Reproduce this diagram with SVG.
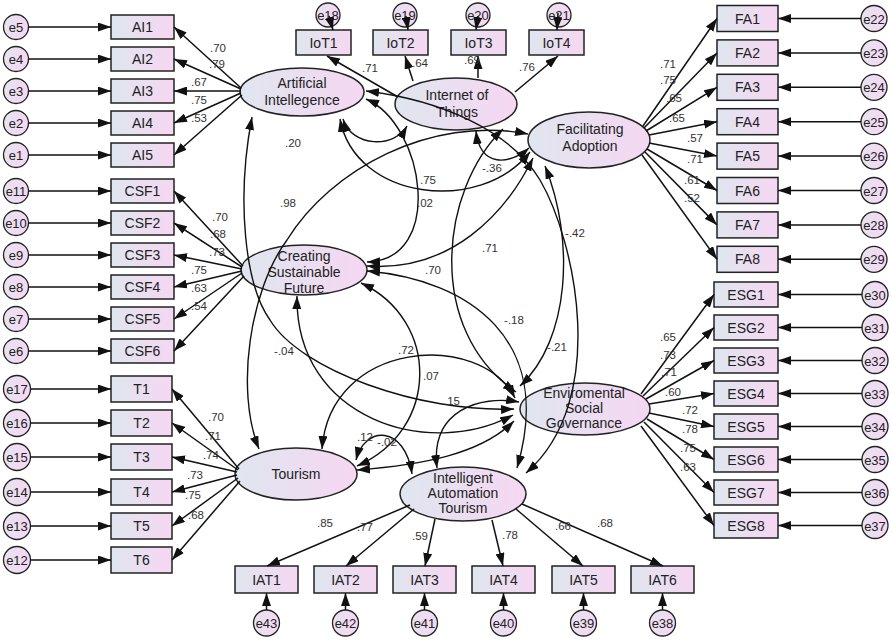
<svg xmlns="http://www.w3.org/2000/svg" width="892" height="640" viewBox="0 0 892 640">
<defs>
<linearGradient id="g" x1="0" x2="1" y1="0" y2="0"><stop offset="0" stop-color="#dfe6ef"/><stop offset="1" stop-color="#f6d7f2"/></linearGradient>
<linearGradient id="ge" x1="0" x2="1" y1="0" y2="0"><stop offset="0" stop-color="#e6e3f1"/><stop offset="1" stop-color="#f6d7f2"/></linearGradient>
<marker id="ah" viewBox="0 0 13 9" refX="13" refY="4.5" markerWidth="13" markerHeight="9" markerUnits="userSpaceOnUse" orient="auto-start-reverse"><path d="M0,0 L13,4.5 L0,9 z" fill="#111"/></marker>
</defs>
<style>
.box{fill:url(#g);stroke:#222;stroke-width:1.5}
.lat{fill:url(#g);stroke:#222;stroke-width:1.5}
.err{fill:url(#ge);stroke:#222;stroke-width:1.3}
text{font-family:"Liberation Sans",Arial,sans-serif;text-anchor:middle;fill:#222}
.bt{font-size:14px}
.et{font-size:13px}
.lt{font-size:14px}
.v{font-size:11.5px;fill:#333}
.a{fill:none;stroke:#111;stroke-width:1.5;marker-end:url(#ah)}
.cv{fill:none;stroke:#111;stroke-width:1.4;marker-start:url(#ah);marker-end:url(#ah)}
</style>
<rect width="892" height="640" fill="#fff"/>

<!-- AI indicators -->
<g id="AI1"><circle class="err" cx="16" cy="27" r="12.5"/><text class="et" x="16" y="32">e5</text><rect class="box" x="111" y="15" width="63" height="24"/><text class="bt" x="142.5" y="32">AI1</text></g>
<g id="AI2"><circle class="err" cx="16" cy="59" r="12.5"/><text class="et" x="16" y="64">e4</text><rect class="box" x="111" y="47" width="63" height="24"/><text class="bt" x="142.5" y="64">AI2</text></g>
<g id="AI3"><circle class="err" cx="16" cy="91" r="12.5"/><text class="et" x="16" y="96">e3</text><rect class="box" x="111" y="79" width="63" height="24"/><text class="bt" x="142.5" y="96">AI3</text></g>
<g id="AI4"><circle class="err" cx="16" cy="123" r="12.5"/><text class="et" x="16" y="128">e2</text><rect class="box" x="111" y="111" width="63" height="24"/><text class="bt" x="142.5" y="128">AI4</text></g>
<g id="AI5"><circle class="err" cx="16" cy="155" r="12.5"/><text class="et" x="16" y="160">e1</text><rect class="box" x="111" y="143" width="63" height="24"/><text class="bt" x="142.5" y="160">AI5</text></g>

<!-- CSF indicators -->
<g id="CSF1"><circle class="err" cx="16" cy="191" r="12.5"/><text class="et" x="16" y="196">e11</text><rect class="box" x="111" y="179" width="63" height="24"/><text class="bt" x="142.5" y="196">CSF1</text></g>
<g id="CSF2"><circle class="err" cx="16" cy="223" r="12.5"/><text class="et" x="16" y="228">e10</text><rect class="box" x="111" y="211" width="63" height="24"/><text class="bt" x="142.5" y="228">CSF2</text></g>
<g id="CSF3"><circle class="err" cx="16" cy="255" r="12.5"/><text class="et" x="16" y="260">e9</text><rect class="box" x="111" y="243" width="63" height="24"/><text class="bt" x="142.5" y="260">CSF3</text></g>
<g id="CSF4"><circle class="err" cx="16" cy="287" r="12.5"/><text class="et" x="16" y="292">e8</text><rect class="box" x="111" y="275" width="63" height="24"/><text class="bt" x="142.5" y="292">CSF4</text></g>
<g id="CSF5"><circle class="err" cx="16" cy="319" r="12.5"/><text class="et" x="16" y="324">e7</text><rect class="box" x="111" y="307" width="63" height="24"/><text class="bt" x="142.5" y="324">CSF5</text></g>
<g id="CSF6"><circle class="err" cx="16" cy="351" r="12.5"/><text class="et" x="16" y="356">e6</text><rect class="box" x="111" y="339" width="63" height="24"/><text class="bt" x="142.5" y="356">CSF6</text></g>

<!-- Tourism indicators -->
<g id="T1"><circle class="err" cx="17" cy="389" r="13.5"/><text class="et" x="17" y="394">e17</text><rect class="box" x="111" y="376" width="61" height="26"/><text class="bt" x="141.5" y="394">T1</text></g>
<g id="T2"><circle class="err" cx="17" cy="423" r="13.5"/><text class="et" x="17" y="428">e16</text><rect class="box" x="111" y="410" width="61" height="26"/><text class="bt" x="141.5" y="428">T2</text></g>
<g id="T3"><circle class="err" cx="17" cy="457" r="13.5"/><text class="et" x="17" y="462">e15</text><rect class="box" x="111" y="444" width="61" height="26"/><text class="bt" x="141.5" y="462">T3</text></g>
<g id="T4"><circle class="err" cx="17" cy="492" r="13.5"/><text class="et" x="17" y="497">e14</text><rect class="box" x="111" y="479" width="61" height="26"/><text class="bt" x="141.5" y="497">T4</text></g>
<g id="T5"><circle class="err" cx="17" cy="526" r="13.5"/><text class="et" x="17" y="531">e13</text><rect class="box" x="111" y="513" width="61" height="26"/><text class="bt" x="141.5" y="531">T5</text></g>
<g id="T6"><circle class="err" cx="17" cy="560" r="13.5"/><text class="et" x="17" y="565">e12</text><rect class="box" x="111" y="547" width="61" height="26"/><text class="bt" x="141.5" y="565">T6</text></g>

<!-- IoT indicators -->
<g id="IoT1"><circle class="err" cx="328" cy="15" r="12"/><text class="et" x="328" y="20">e18</text><rect class="box" x="296" y="30" width="55" height="25"/><text class="bt" x="323.5" y="48">IoT1</text></g>
<g id="IoT2"><circle class="err" cx="405" cy="15" r="12"/><text class="et" x="405" y="20">e19</text><rect class="box" x="373" y="30" width="55" height="25"/><text class="bt" x="400.5" y="48">IoT2</text></g>
<g id="IoT3"><circle class="err" cx="478" cy="15" r="12"/><text class="et" x="478" y="20">e20</text><rect class="box" x="451" y="30" width="55" height="25"/><text class="bt" x="478.5" y="48">IoT3</text></g>
<g id="IoT4"><circle class="err" cx="559" cy="15" r="12"/><text class="et" x="559" y="20">e21</text><rect class="box" x="529" y="30" width="55" height="25"/><text class="bt" x="556.5" y="48">IoT4</text></g>

<!-- FA indicators -->
<g id="FA1"><rect class="box" x="717" y="5.5" width="61" height="26"/><text class="bt" x="747.5" y="23.5">FA1</text><circle class="err" cx="874" cy="18.5" r="13"/><text class="et" x="874" y="23.5">e22</text></g>
<g id="FA2"><rect class="box" x="717" y="39.9" width="61" height="26"/><text class="bt" x="747.5" y="57.9">FA2</text><circle class="err" cx="874" cy="52.9" r="13"/><text class="et" x="874" y="57.9">e23</text></g>
<g id="FA3"><rect class="box" x="717" y="74.3" width="61" height="26"/><text class="bt" x="747.5" y="92.3">FA3</text><circle class="err" cx="874" cy="87.3" r="13"/><text class="et" x="874" y="92.3">e24</text></g>
<g id="FA4"><rect class="box" x="717" y="108.7" width="61" height="26"/><text class="bt" x="747.5" y="126.7">FA4</text><circle class="err" cx="874" cy="121.7" r="13"/><text class="et" x="874" y="126.7">e25</text></g>
<g id="FA5"><rect class="box" x="717" y="143.1" width="61" height="26"/><text class="bt" x="747.5" y="161.1">FA5</text><circle class="err" cx="874" cy="156.1" r="13"/><text class="et" x="874" y="161.1">e26</text></g>
<g id="FA6"><rect class="box" x="717" y="177.5" width="61" height="26"/><text class="bt" x="747.5" y="195.5">FA6</text><circle class="err" cx="874" cy="190.5" r="13"/><text class="et" x="874" y="195.5">e27</text></g>
<g id="FA7"><rect class="box" x="717" y="211.9" width="61" height="26"/><text class="bt" x="747.5" y="229.9">FA7</text><circle class="err" cx="874" cy="224.9" r="13"/><text class="et" x="874" y="229.9">e28</text></g>
<g id="FA8"><rect class="box" x="717" y="246.3" width="61" height="26"/><text class="bt" x="747.5" y="264.3">FA8</text><circle class="err" cx="874" cy="259.3" r="13"/><text class="et" x="874" y="264.3">e29</text></g>

<!-- ESG indicators -->
<g id="ESG1"><rect class="box" x="714" y="282" width="64" height="25"/><text class="bt" x="746" y="299.5">ESG1</text><circle class="err" cx="875" cy="294.5" r="13"/><text class="et" x="875" y="299.5">e30</text></g>
<g id="ESG2"><rect class="box" x="714" y="315" width="64" height="25"/><text class="bt" x="746" y="332.5">ESG2</text><circle class="err" cx="875" cy="327.5" r="13"/><text class="et" x="875" y="332.5">e31</text></g>
<g id="ESG3"><rect class="box" x="714" y="348" width="64" height="25"/><text class="bt" x="746" y="365.5">ESG3</text><circle class="err" cx="875" cy="360.5" r="13"/><text class="et" x="875" y="365.5">e32</text></g>
<g id="ESG4"><rect class="box" x="714" y="381" width="64" height="25"/><text class="bt" x="746" y="398.5">ESG4</text><circle class="err" cx="875" cy="393.5" r="13"/><text class="et" x="875" y="398.5">e33</text></g>
<g id="ESG5"><rect class="box" x="714" y="414" width="64" height="25"/><text class="bt" x="746" y="431.5">ESG5</text><circle class="err" cx="875" cy="426.5" r="13"/><text class="et" x="875" y="431.5">e34</text></g>
<g id="ESG6"><rect class="box" x="714" y="447" width="64" height="25"/><text class="bt" x="746" y="464.5">ESG6</text><circle class="err" cx="875" cy="459.5" r="13"/><text class="et" x="875" y="464.5">e35</text></g>
<g id="ESG7"><rect class="box" x="714" y="480" width="64" height="25"/><text class="bt" x="746" y="497.5">ESG7</text><circle class="err" cx="875" cy="492.5" r="13"/><text class="et" x="875" y="497.5">e36</text></g>
<g id="ESG8"><rect class="box" x="714" y="513" width="64" height="25"/><text class="bt" x="746" y="530.5">ESG8</text><circle class="err" cx="875" cy="525.5" r="13"/><text class="et" x="875" y="530.5">e37</text></g>

<!-- IAT indicators -->
<g id="IAT1"><rect class="box" x="235" y="566" width="63" height="27"/><text class="bt" x="266.5" y="584.5">IAT1</text><circle class="err" cx="266.5" cy="623" r="13"/><text class="et" x="266.5" y="628">e43</text></g>
<g id="IAT2"><rect class="box" x="314" y="566" width="63" height="27"/><text class="bt" x="345.5" y="584.5">IAT2</text><circle class="err" cx="345.5" cy="623" r="13"/><text class="et" x="345.5" y="628">e42</text></g>
<g id="IAT3"><rect class="box" x="393" y="566" width="63" height="27"/><text class="bt" x="424.5" y="584.5">IAT3</text><circle class="err" cx="424.5" cy="623" r="13"/><text class="et" x="424.5" y="628">e41</text></g>
<g id="IAT4"><rect class="box" x="472" y="566" width="63" height="27"/><text class="bt" x="503.5" y="584.5">IAT4</text><circle class="err" cx="503.5" cy="623" r="13"/><text class="et" x="503.5" y="628">e40</text></g>
<g id="IAT5"><rect class="box" x="552" y="566" width="63" height="27"/><text class="bt" x="583.5" y="584.5">IAT5</text><circle class="err" cx="583.5" cy="623" r="13"/><text class="et" x="583.5" y="628">e39</text></g>
<g id="IAT6"><rect class="box" x="631" y="566" width="63" height="27"/><text class="bt" x="662.5" y="584.5">IAT6</text><circle class="err" cx="662.5" cy="623" r="13"/><text class="et" x="662.5" y="628">e38</text></g>

<!-- Latent variables -->
<g id="AI"><ellipse class="lat" cx="302" cy="92" rx="62" ry="24"/><text class="lt" x="302" y="88">Artificial</text><text class="lt" x="302" y="105">Intellegence</text></g>
<g id="IoT"><ellipse class="lat" cx="456" cy="104" rx="61" ry="26"/><text class="lt" x="457" y="100">Internet of</text><text class="lt" x="457" y="117">Things</text></g>
<g id="FA"><ellipse class="lat" cx="589" cy="140" rx="61" ry="28"/><text class="lt" x="590" y="134">Facilitating</text><text class="lt" x="590" y="151">Adoption</text></g>
<g id="CSF"><ellipse class="lat" cx="304" cy="270" rx="63" ry="25"/><text class="lt" x="304" y="261">Creating</text><text class="lt" x="304" y="277">Sustainable</text><text class="lt" x="304" y="293">Future</text></g>
<g id="ESG"><ellipse class="lat" cx="585" cy="409" rx="65" ry="26"/><text class="lt" x="584" y="398">Enviromental</text><text class="lt" x="584" y="413">Social</text><text class="lt" x="584" y="428">Governance</text></g>
<g id="Tourism"><ellipse class="lat" cx="296" cy="474" rx="61" ry="26"/><text class="lt" x="296" y="479">Tourism</text></g>
<g id="IAT"><ellipse class="lat" cx="463" cy="494" rx="63" ry="27"/><text class="lt" x="463" y="483">Intelligent</text><text class="lt" x="463" y="498">Automation</text><text class="lt" x="463" y="513">Tourism</text></g>

<g id="connectors">
<!-- error arrows left -->
<path class="a" d="M28.5,27H111"/><path class="a" d="M28.5,59H111"/><path class="a" d="M28.5,91H111"/><path class="a" d="M28.5,123H111"/><path class="a" d="M28.5,155H111"/>
<path class="a" d="M28.5,191H111"/><path class="a" d="M28.5,223H111"/><path class="a" d="M28.5,255H111"/><path class="a" d="M28.5,287H111"/><path class="a" d="M28.5,319H111"/><path class="a" d="M28.5,351H111"/>
<path class="a" d="M30.5,389H111"/><path class="a" d="M30.5,423H111"/><path class="a" d="M30.5,457H111"/><path class="a" d="M30.5,492H111"/><path class="a" d="M30.5,526H111"/><path class="a" d="M30.5,560H111"/>
<!-- AI loadings -->
<path class="a" d="M241,88L174,27"/><path class="a" d="M241,89L174,59"/><path class="a" d="M241,91L174,91"/><path class="a" d="M241,93L174,123"/><path class="a" d="M242,95L174,155"/>
<!-- CSF loadings -->
<path class="a" d="M243,266L174,191"/><path class="a" d="M242,267L174,223"/><path class="a" d="M242,269L174,255"/><path class="a" d="M242,271L174,287"/><path class="a" d="M242,273L174,319"/><path class="a" d="M244,276L174,351"/>
<!-- T loadings -->
<path class="a" d="M239,469L172,389"/><path class="a" d="M238,470L172,423"/><path class="a" d="M237,472L172,457"/><path class="a" d="M237,475L172,492"/><path class="a" d="M238,478L172,526"/><path class="a" d="M240,481L172,560"/>
<!-- IoT loadings & errors -->
<path class="a" d="M398,97L327,56"/><path class="a" d="M413,81L405,56"/><path class="a" d="M478,78L478,56"/><path class="a" d="M515,92L558,56"/>
<path class="a" d="M329,16L333,30"/><path class="a" d="M406,16L408,30"/><path class="a" d="M478,16L476,30"/><path class="a" d="M558,13L557,30"/>
<!-- FA loadings & errors -->
<path class="a" d="M643,126L717,18.5"/><path class="a" d="M644,128L717,52.9"/><path class="a" d="M646,131L717,87.3"/><path class="a" d="M649,135L717,121.7"/><path class="a" d="M649,143L717,156.1"/><path class="a" d="M647,149L717,190.5"/><path class="a" d="M645,152L717,224.9"/><path class="a" d="M642,155L717,259.3"/>
<path class="a" d="M861,18.5H778"/><path class="a" d="M861,52.9H778"/><path class="a" d="M861,87.3H778"/><path class="a" d="M861,121.7H778"/><path class="a" d="M861,156.1H778"/><path class="a" d="M861,190.5H778"/><path class="a" d="M861,224.9H778"/><path class="a" d="M861,259.3H778"/>
<!-- ESG loadings & errors -->
<path class="a" d="M641,394L714,294.5"/><path class="a" d="M643,396L714,327.5"/><path class="a" d="M646,399L714,360.5"/><path class="a" d="M649,404L714,393.5"/><path class="a" d="M649,413L714,426.5"/><path class="a" d="M647,419L714,459.5"/><path class="a" d="M644,422L714,492.5"/><path class="a" d="M641,426L714,525.5"/>
<path class="a" d="M862,294.5H778"/><path class="a" d="M862,327.5H778"/><path class="a" d="M862,360.5H778"/><path class="a" d="M862,393.5H778"/><path class="a" d="M862,426.5H778"/><path class="a" d="M862,459.5H778"/><path class="a" d="M862,492.5H778"/><path class="a" d="M862,525.5H778"/>
<!-- IAT loadings & errors -->
<path class="a" d="M410,505L267,566"/><path class="a" d="M414,509L346,566"/><path class="a" d="M435,519L425,566"/><path class="a" d="M492,520L503,566"/><path class="a" d="M516,509L583,566"/><path class="a" d="M522,504L663,566"/>
<path class="a" d="M266.5,610V593"/><path class="a" d="M345.5,610V593"/><path class="a" d="M424.5,610V593"/><path class="a" d="M503.5,610V593"/><path class="a" d="M583.5,610V593"/><path class="a" d="M662.5,610V593"/>

<!-- covariances -->
<path class="cv" d="M343,119C352,148 395,148 407,126"/>
<path class="cv" d="M340,119C355,200 480,215 530,152"/>
<path class="cv" d="M366,99C425,125 445,260 367,262"/>
<path class="cv" d="M252,117C236,200 245,285 270,320C300,370 420,413 514,409"/>
<path class="cv" d="M528,134C430,115 330,170 287,240C250,290 235,390 259,449"/>
<path class="cv" d="M366,91C440,100 510,130 540,180C575,240 610,400 526,473"/>
<path class="cv" d="M476,131C480,168 510,165 529,148"/>
<path class="cv" d="M367,266C450,272 505,215 533,158"/>
<path class="cv" d="M503,129C440,190 425,330 516,392"/>
<path class="cv" d="M367,271C470,280 555,340 517,468"/>
<path class="cv" d="M545,166C575,240 570,340 520,386"/>
<path class="cv" d="M322,449C330,340 480,330 515,398"/>
<path class="cv" d="M357,470C420,465 480,455 514,421"/>
<path class="cv" d="M297,296C295,420 430,460 513,415"/>
<path class="cv" d="M437,468C430,410 480,395 519,402"/>
<path class="cv" d="M356,460C365,425 405,425 412,474"/>
<path class="cv" d="M361,283C440,320 440,430 357,466"/>
</g>

<g id="values">
<text class="v" x="218" y="52">.70</text><text class="v" x="217" y="68">.79</text><text class="v" x="199" y="86">.67</text><text class="v" x="199" y="104">.75</text><text class="v" x="199" y="122">.53</text>
<text class="v" x="220" y="221">.70</text><text class="v" x="218" y="238">.68</text><text class="v" x="217" y="256">.73</text><text class="v" x="199" y="274">.75</text><text class="v" x="199" y="292">.63</text><text class="v" x="199" y="310">.54</text>
<text class="v" x="216" y="421">.70</text><text class="v" x="213" y="440">.71</text><text class="v" x="211" y="459">.74</text><text class="v" x="195" y="479">.73</text><text class="v" x="193" y="499">.75</text><text class="v" x="196" y="519">.68</text>
<text class="v" x="370" y="72">.71</text><text class="v" x="420" y="67">.64</text><text class="v" x="472" y="64">.69</text><text class="v" x="527" y="71">.76</text>
<text class="v" x="668" y="68">.71</text><text class="v" x="668" y="84">.75</text><text class="v" x="674" y="102">.65</text><text class="v" x="677" y="122">.65</text><text class="v" x="695" y="142">.57</text><text class="v" x="695" y="163">.71</text><text class="v" x="692" y="184">.61</text><text class="v" x="692" y="202">.52</text>
<text class="v" x="668" y="341">.65</text><text class="v" x="668" y="359">.73</text><text class="v" x="669" y="376">.71</text><text class="v" x="673" y="396">.60</text><text class="v" x="690" y="414">.72</text><text class="v" x="690" y="433">.78</text><text class="v" x="688" y="452">.75</text><text class="v" x="688" y="471">.63</text>
<text class="v" x="325" y="527">.85</text><text class="v" x="365" y="531">.77</text><text class="v" x="420" y="540">.59</text><text class="v" x="510" y="539">.78</text><text class="v" x="563" y="530">.66</text><text class="v" x="605" y="527">.68</text>
<text class="v" x="293" y="147">.20</text><text class="v" x="428" y="184">.75</text><text class="v" x="425" y="207">.02</text><text class="v" x="288" y="207">.98</text><text class="v" x="492" y="172">-.36</text><text class="v" x="490" y="252">.71</text><text class="v" x="433" y="274">.70</text><text class="v" x="575" y="237">-.42</text><text class="v" x="514" y="324">-.18</text><text class="v" x="557" y="351">-.21</text><text class="v" x="284" y="355">-.04</text><text class="v" x="406" y="354">.72</text><text class="v" x="431" y="380">.07</text><text class="v" x="452" y="405">.15</text><text class="v" x="365" y="441">.12</text><text class="v" x="387" y="446">-.02</text>
</g>
</svg>
